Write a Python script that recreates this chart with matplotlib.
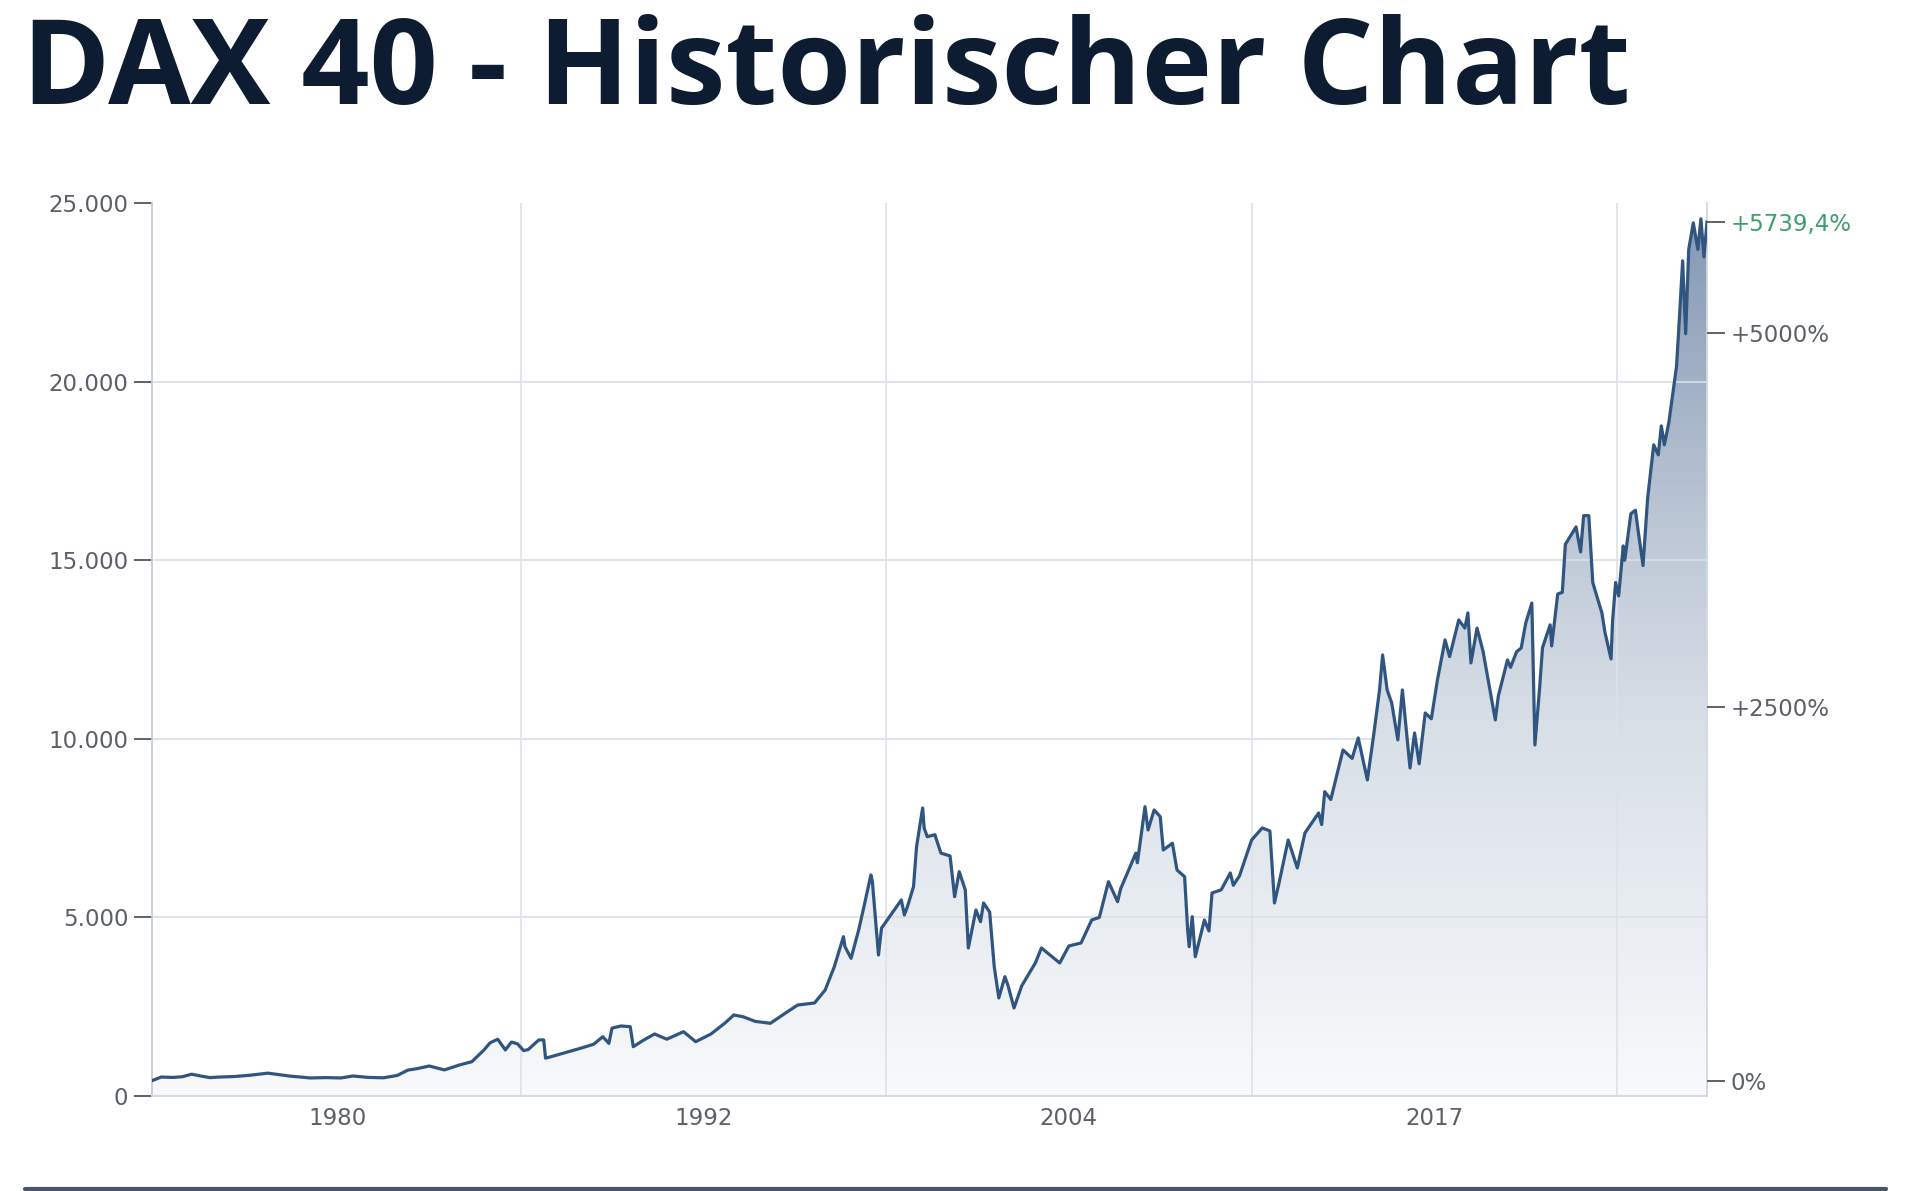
import numpy as np
import matplotlib
matplotlib.use("Agg")
import matplotlib.pyplot as plt
from matplotlib.colors import LinearSegmentedColormap
from matplotlib.ticker import FuncFormatter

# --- Daten (Dezimaljahr / Indexstand) ---
YEARS = [
    1974.9, 1975.2, 1975.6, 1975.9, 1976.2, 1976.5, 1976.8, 1977.1, 1977.6, 1978.1,
    1978.7, 1979.4, 1980.1, 1980.6, 1981.1, 1981.5, 1982.0, 1982.5, 1982.95, 1983.3,
    1983.6, 1984.0, 1984.5, 1985.0, 1985.4, 1985.8, 1986.0, 1986.25, 1986.5, 1986.7,
    1986.9, 1987.1, 1987.25, 1987.6, 1987.76, 1987.82, 1988.0, 1989.0, 1989.4, 1989.7,
    1989.9, 1990.0, 1990.3, 1990.6, 1990.7, 1991.05, 1991.4, 1991.8, 1992.35, 1992.75,
    1993.25, 1993.7, 1994.0, 1994.3, 1994.7, 1995.2, 1995.7, 1996.1, 1996.65, 1997.0,
    1997.3, 1997.6, 1997.65, 1997.85, 1998.1, 1998.3, 1998.5, 1998.55, 1998.75, 1998.85,
    1999.5, 1999.6, 1999.7, 1999.9, 2000.0, 2000.2, 2000.25, 2000.35, 2000.6, 2000.8,
    2001.1, 2001.25, 2001.4, 2001.6, 2001.7, 2001.95, 2002.1, 2002.2, 2002.4, 2002.55,
    2002.7, 2002.9, 2003.0, 2003.2, 2003.45, 2003.9, 2004.1, 2004.45, 2004.7, 2005.0,
    2005.4, 2005.75, 2006.0, 2006.3, 2006.6, 2006.7, 2007.2, 2007.25, 2007.5, 2007.6,
    2007.8, 2008.0, 2008.1, 2008.4, 2008.55, 2008.8, 2008.9, 2008.95, 2009.05, 2009.15,
    2009.45, 2009.6, 2009.7, 2010.0, 2010.3, 2010.4, 2010.6, 2011.0, 2011.35, 2011.6,
    2011.75, 2011.9, 2012.2, 2012.5, 2012.75, 2013.2, 2013.3, 2013.4, 2013.6, 2014.0,
    2014.3, 2014.5, 2014.8, 2015.0, 2015.2, 2015.3, 2015.45, 2015.6, 2015.8, 2015.95,
    2016.2, 2016.35, 2016.5, 2016.7, 2016.9, 2017.1, 2017.35, 2017.5, 2017.8, 2018.0,
    2018.1, 2018.2, 2018.4, 2018.6, 2019.0, 2019.1, 2019.4, 2019.5, 2019.7, 2019.85,
    2020.0, 2020.2, 2020.3, 2020.45, 2020.55, 2020.8, 2020.85, 2021.05, 2021.2, 2021.3,
    2021.65, 2021.8, 2021.9, 2022.07, 2022.2, 2022.35, 2022.5, 2022.6, 2022.8, 2022.85,
    2022.95, 2023.05, 2023.2, 2023.25, 2023.45, 2023.6, 2023.7, 2023.85, 2024.0, 2024.2,
    2024.35, 2024.45, 2024.55, 2024.7, 2024.8, 2024.95, 2025.05, 2025.15, 2025.25, 2025.35,
    2025.5, 2025.65, 2025.75, 2025.85, 2025.95,
]
DAX = [
    430, 530, 520, 540, 610, 560, 515, 530, 545, 580,
    640, 560, 505, 515, 505, 560, 520, 510, 575, 725,
    765, 840, 730, 870, 960, 1290, 1490, 1590, 1290, 1510,
    1460, 1270, 1300, 1570, 1570, 1060, 1100, 1344, 1450, 1660,
    1474, 1900, 1960, 1940, 1380, 1570, 1736, 1590, 1800, 1520,
    1736, 2035, 2268, 2220, 2090, 2035, 2324, 2548, 2604, 2968,
    3620, 4460, 4180, 3854, 4648, 5404, 6188, 6000, 3948, 4700,
    5488, 5068, 5300, 5860, 6980, 8064, 7500, 7260, 7316, 6800,
    6720, 5580, 6280, 5770, 4144, 5208, 4880, 5404, 5150, 3620,
    2744, 3340, 3100, 2464, 3080, 3724, 4144, 3900, 3724, 4200,
    4284, 4928, 5000, 6000, 5440, 5800, 6800, 6530, 8100, 7448,
    8008, 7820, 6888, 7076, 6328, 6140, 4648, 4180, 5020, 3900,
    4928, 4620, 5684, 5770, 6244, 5900, 6160, 7168, 7504, 7420,
    5404, 5964, 7168, 6384, 7364, 7924, 7600, 8520, 8300, 9688,
    9450, 10024, 8848, 10060, 11368, 12348, 11368, 11000, 9968, 11368,
    9184, 10164, 9300, 10724, 10560, 11648, 12768, 12300, 13328, 13100,
    13524, 12124, 13100, 12440, 10528, 11200, 12208, 12000, 12440, 12540,
    13244, 13800, 9828, 11368, 12550, 13190, 12600, 14056, 14100, 15445,
    15932, 15232, 16248, 16248, 14375, 13944, 13524, 12980, 12236, 13300,
    14375, 14000, 15400, 15000, 16300, 16400, 15760, 14850, 16730, 18230,
    17950, 18760, 18230, 18870, 19500, 20430, 21870, 23380, 21340, 23700,
    24444, 23700, 24556, 23490, 24467,
]
LAST_PCT = 5739.4  # Performance seit Start in %

Y_TICKS = [0, 5000, 10000, 15000, 20000, 25000]
PCT_TICKS = [0, 2500, 5000]
X_LABELS = ["1980", "1992", "2004", "2017"]
X_LABEL_POS = [1981, 1993, 2005, 2017]
X_GRID = [1987, 1999, 2011, 2023]

TITLE = "DAX 40 - Historischer Chart"

# --- Layout ---
fig = plt.figure(figsize=(19.2, 11.91), dpi=100)
ax = fig.add_axes([152 / 1920, 1 - 1096 / 1191, (1707 - 152) / 1920, (1096 - 203) / 1191])

x = np.array(YEARS)
y = np.array(DAX)
x0, x1 = x[0], x[-1]
ymax = Y_TICKS[-1]

# Verlaufsfläche unter der Linie
cmap = LinearSegmentedColormap.from_list(
    "dax", [(0, "#f8f9fb"), (0.4, "#d9e0e8"), (0.6, "#c2ccd9"), (1.0, "#8396b3")]
)
grad = np.linspace(0, 1, 256).reshape(-1, 1)
im = ax.imshow(grad, extent=[x0, x1, 0, ymax], origin="lower", aspect="auto",
               cmap=cmap, zorder=1, interpolation="bilinear")
poly = ax.fill_between(x, y, 0, facecolor="none", edgecolor="none")
im.set_clip_path(poly.get_paths()[0], transform=ax.transData)

# Gitter
for g in Y_TICKS[1:-1]:
    ax.axhline(g, color="#d9dfe7", lw=1.2, zorder=2)
for g in X_GRID:
    ax.axvline(g, color="#dde2e8", lw=1.2, zorder=2)

ax.plot(x, y, color="#2f5580", lw=2.3, zorder=3, solid_joinstyle="round")

ax.set_xlim(x0, x1)
ax.set_ylim(0, ymax)

ax.set_yticks(Y_TICKS)
ax.yaxis.set_major_formatter(FuncFormatter(lambda v, p: f"{int(v):,}".replace(",", ".")))
ax.set_xticks(X_LABEL_POS, labels=X_LABELS)
ax.tick_params(axis="y", length=13, width=1.3, color="#555555", pad=4,
               labelsize=16.5, labelcolor="#5b6068")
ax.tick_params(axis="x", length=0, pad=8, labelsize=16.5, labelcolor="#5b6068")

ax.spines["top"].set_visible(False)
ax.spines["left"].set_color("#c3ccd7")
ax.spines["bottom"].set_color("#d3d8de")
ax.spines["right"].set_color("#d3d8de")
for s in ax.spines.values():
    s.set_linewidth(1.3)

# Rechte Achse: Performance in %
base = y[-1] / (1 + LAST_PCT / 100)
ax2 = ax.twinx()
ax2.set_ylim((0 / base - 1) * 100, (ymax / base - 1) * 100)
ticks = PCT_TICKS + [LAST_PCT]
labels = ["0%" if t == 0 else f"+{t:g}%" for t in PCT_TICKS]
labels.append("+" + f"{LAST_PCT:.1f}".replace(".", ",") + "%")
ax2.set_yticks(ticks, labels=labels)
ax2.tick_params(axis="y", length=13, width=1.3, color="#555555", pad=4,
                labelsize=16.5, labelcolor="#5b6068")
ax2.get_yticklabels()[-1].set_color("#3f9e6c")
for s in ax2.spines.values():
    s.set_visible(False)

fig.text(22 / 1920, 1 - 104 / 1191, TITLE, fontsize=86, fontweight="bold",
         family=["Open Sans", "DejaVu Sans"], color="#0d1c30", va="baseline", ha="left")

# Trennlinie unten
fig.add_artist(plt.Line2D([25 / 1920, 1886 / 1920], [2 / 1191, 2 / 1191],
                          color="#46566d", lw=3, solid_capstyle="round"))

fig.savefig("out.png", dpi=100)
